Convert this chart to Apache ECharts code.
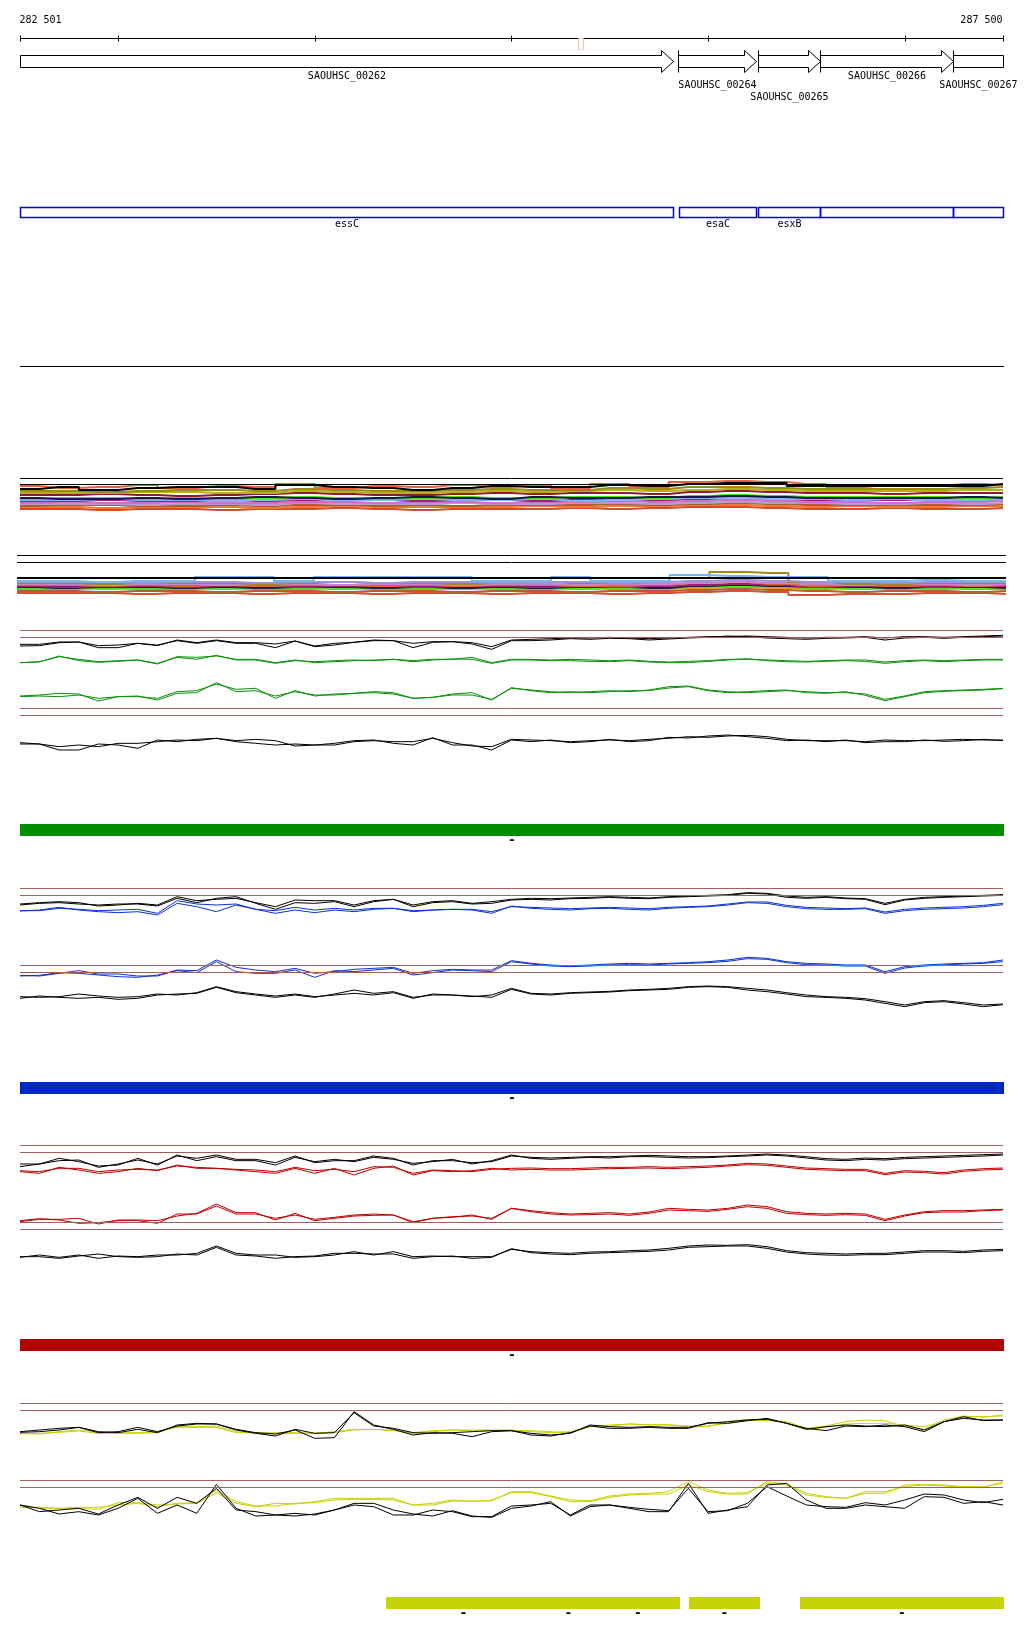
<!DOCTYPE html>
<html><head><meta charset="utf-8">
<script src="https://cdn.jsdelivr.net/npm/echarts/dist/echarts.min.js"></script>
<style>html,body{margin:0;padding:0;background:#fff}#c{width:1024px;height:1640px}</style>
</head><body><div id="c"></div>
<script>
// ---------------- data ----------------
const X_MIN = 282501, X_MAX = 287500;
const rulerTicks = [282501, 283000, 284000, 285000, 286000, 287000, 287500];
const geneNames = ['SAOUHSC_00262','SAOUHSC_00264','SAOUHSC_00265','SAOUHSC_00266','SAOUHSC_00267'];
const geneStart = [282501, 285848, 286255, 286570, 287247];
const geneEnd   = [285822, 286245, 286570, 287247, 287500];
const geneLabelLane = [0, 1, 2, 0, 1];
const variantPos = [285349];
const annotNames = ['essC','esaC','esxB','',''];
const annotStart = [282501, 285850, 286255, 286570, 287247];
const annotEnd   = [285822, 286245, 286570, 287247, 287500];

const pos100 = [282501,282600,282700,282800,282900,283000,283100,283200,283300,283400,283500,283600,283700,283800,283900,284000,284100,284200,284300,284400,284500,284600,284700,284800,284900,285000,285100,285200,285300,285400,285500,285600,285700,285800,285900,286000,286100,286200,286300,286400,286500,286600,286700,286800,286900,287000,287100,287200,287300,287400,287500];
const pos200 = [282501,282700,282900,283100,283300,283500,283700,283900,284100,284300,284500,284700,284900,285100,285300,285500,285700,285900,286100,286300,286500,286700,286900,287100,287300,287500];

// alignment track 1 (multi-colour)
const t1Black      = [26,28,25,27,28,28,26,30,28,27,25,27,29,28,28,30,29,31,32,32,29,29,29,29,29,31];
const t1OrangeRed  = [29,27,28,30,27,29,28,31,27,29,28,30,28,30,27,31,28,33,34,33,31,28,30,29,31,30];
const t1Olive      = [24,24,23,24,25,25,24,26,25,24,24,25,26,25,25,27,26,28,28,27,26,26,26,26,27,28];
const t1YellowOlive= [22,22,22,23,23,22,22,24,23,22,22,23,24,23,24,25,24,25,26,25,24,24,24,24,25,25];
const t1Maroon     = [20,20,21,20,19,20,21,22,21,20,20,21,22,21,22,22,21,23,24,23,22,22,21,22,22,22];
const t1Navy       = [17,16,16,17,16,17,18,17,16,17,18,17,16,18,17,17,18,18,19,18,17,17,17,17,18,17];
const t1Green      = [16,17,17,16,17,16,17,18,17,16,17,18,17,17,18,18,17,19,20,19,18,18,18,18,17,18];
const t1LightBlue  = [15,15,16,15,15,14,15,16,15,15,16,15,15,16,14,15,16,17,17,16,16,15,16,15,15,16];
const t1Magenta    = [14,14,15,14,14,15,14,15,16,15,14,15,15,14,15,16,15,16,17,16,15,15,15,16,15,16];
const t1Pink       = [12,13,12,12,13,12,12,13,13,12,13,13,12,13,13,14,13,14,15,14,13,13,12,13,13,14];
const t1Lavender   = [11,11,11,10,11,11,10,12,11,11,11,12,11,11,12,12,11,12,13,12,12,11,11,12,11,12];
const t1Brown      = [9,10,10,9,9,10,9,10,10,9,10,9,10,10,10,11,10,11,12,11,10,10,10,10,10,11];
const t1Orange     = [8,8,7,8,8,8,7,8,9,8,8,8,8,9,8,9,9,10,10,9,8,9,8,8,9,9];
const t1RedOrange  = [6,6,5,6,6,5,6,6,7,6,5,6,6,6,7,6,7,8,8,7,6,6,7,6,6,7];
const t1RefLevels  = [37, 31];

// alignment track 2 (multi-colour)
const t2LightBlue = [19,19,18,19,19,23,23,19,23,23,23,23,19,19,23,19,19,25,24,23,23,19,19,20,19,19];
const t2Olive     = [17,17,16,17,17,17,16,17,18,17,17,16,17,18,17,17,18,22,28,27,18,16,16,17,17,17];
const t2Lavender  = [18,18,18,17,18,18,17,18,18,17,18,18,17,18,18,17,18,19,20,19,18,18,17,18,18,18];
const t2Pink      = [16,16,15,16,16,15,16,16,15,16,16,15,16,16,15,16,16,17,18,17,16,15,16,16,15,16];
const t2OrangeRed = [15,15,14,15,14,15,14,15,15,14,15,14,15,15,14,14,15,17,18,16,14,15,14,15,14,15];
const t2Magenta   = [14,13,14,14,13,14,14,13,14,14,13,14,14,13,14,13,14,15,16,15,13,14,14,13,14,14];
const t2Navy      = [13,12,13,13,12,13,12,13,13,12,13,12,13,12,13,13,12,14,15,14,13,13,12,13,13,12];
const t2Green     = [12,12,11,12,12,11,12,12,11,12,12,11,12,12,11,12,12,13,14,13,12,11,12,11,12,12];
const t2Orange    = [11,11,12,11,11,12,11,11,12,11,11,12,11,11,12,11,11,12,13,12,11,12,11,12,11,11];
const t2Brown     = [9,9,8,9,9,8,9,9,8,9,9,8,9,9,8,9,9,10,11,10,9,8,9,9,8,9];
const t2RedOrange = [7,7,7,6,7,7,6,7,7,6,7,7,6,7,7,6,7,8,9,8,5,6,6,7,7,6];
const t2RefLevels = [45, 38, 22];

// green panel (depth units, 0 = top)
const gBlackUpA = [73,73,66,66,77,75,70,77,60,68,60,68,68,72,63,78,70,67,62,62,70,65,65,68,80,60,58,56,54,54,52,54,56,54,52,50,50,48,50,52,54,52,52,50,54,50,50,52,50,48,46];
const gBlackUpB = [78,77,68,66,83,83,70,75,62,70,62,70,70,83,63,80,75,67,60,62,83,67,65,72,88,62,62,60,56,58,55,56,60,57,54,52,48,50,54,56,58,55,54,52,60,54,52,55,52,50,48];
const gGreenUpA = [128,125,110,118,125,122,120,132,110,112,108,118,118,128,120,128,125,122,120,118,122,118,118,112,128,118,118,120,118,120,122,120,124,126,124,122,118,118,120,122,124,122,120,120,126,122,120,122,120,118,118];
const gGreenUpB = [128,126,108,122,127,124,120,130,112,118,106,120,120,130,122,125,122,120,122,118,125,120,117,118,130,120,120,122,122,124,125,122,126,128,128,124,120,116,122,125,126,124,122,124,130,125,122,125,122,120,120];
const gGreenLoA = [230,228,230,225,235,230,228,240,220,218,188,215,212,228,215,225,225,220,218,222,235,232,225,225,238,205,210,215,218,215,212,215,210,200,198,210,215,218,215,212,215,218,218,222,238,228,215,212,210,208,205];
const gGreenLoB = [228,225,220,222,243,230,230,235,215,212,192,208,205,235,212,228,222,220,215,218,235,232,222,218,240,203,212,218,215,218,215,212,212,204,200,212,218,215,212,210,218,220,215,226,242,230,218,214,212,210,206];
const gBlackLoA = [368,372,380,375,380,370,370,365,360,362,355,362,358,362,378,375,375,365,362,365,365,355,368,378,380,358,360,362,365,362,360,362,358,355,350,352,348,346,350,358,362,362,362,365,360,362,362,360,358,360,360];
const gBlackLoB = [372,372,390,390,372,375,385,360,365,358,355,365,370,375,372,375,370,362,360,370,375,353,375,375,390,360,365,360,368,365,358,365,362,352,354,348,345,350,355,362,360,365,360,368,365,365,360,364,362,358,362];
const gRefLevels = [31, 52, 265, 286];

// blue panel
const bBlackUpA = [72,68,65,68,78,75,70,75,50,62,58,55,68,80,60,62,62,75,62,58,75,65,62,70,65,58,55,56,54,52,50,52,54,50,48,46,44,38,40,48,52,50,54,56,70,58,52,50,48,46,44];
const bBlackUpB = [75,70,68,72,75,72,72,78,55,68,55,50,70,88,68,70,65,80,65,58,80,68,65,72,70,60,58,60,56,55,52,55,56,52,50,48,46,40,42,52,55,52,56,58,74,60,55,52,50,48,46];
const bBlueUpA  = [92,92,85,88,92,90,88,100,62,72,75,72,88,92,82,90,85,90,85,85,92,90,88,88,95,80,82,84,86,84,82,84,86,82,80,78,72,66,66,76,82,84,86,84,96,88,84,82,80,76,70];
const bBlueUpB  = [93,90,82,90,95,98,95,105,70,80,95,75,88,100,90,98,90,95,88,85,95,90,88,90,100,78,85,88,90,86,85,88,90,85,82,80,75,68,70,80,86,88,88,86,100,92,88,86,84,80,74];
const bBlueLoA  = [286,288,280,272,282,282,288,288,270,272,240,262,270,275,265,280,275,268,265,262,280,272,268,270,270,242,250,255,258,255,252,250,252,250,248,245,240,232,235,245,250,252,255,255,275,260,255,252,250,248,240];
const bBlueLoB  = [288,286,278,280,285,290,292,285,272,278,245,275,280,280,270,292,272,275,270,265,285,278,270,272,275,245,252,258,260,258,255,254,255,252,250,248,244,236,238,248,254,255,258,258,280,264,258,255,252,250,245];
const bBlackLoA = [350,352,350,342,348,352,350,342,345,338,320,335,342,348,342,350,345,340,345,338,355,342,345,350,345,325,340,342,338,336,334,330,328,325,320,318,320,325,330,338,345,350,352,356,365,375,365,362,368,375,372];
const bBlackLoB = [355,348,352,355,352,358,355,345,342,340,322,338,345,352,345,352,342,330,340,335,352,345,345,348,352,328,342,345,340,338,336,332,330,328,322,320,322,330,335,342,350,352,355,360,370,380,368,365,372,380,374];
const bRefLevels = [25, 46, 256, 277];

// red panel
const rBlackUpA = [72,72,62,60,82,72,60,72,48,55,45,58,58,68,48,68,62,62,48,55,75,62,62,68,65,48,52,54,52,50,50,48,46,48,50,50,48,45,42,45,50,56,58,54,56,52,50,48,46,44,42];
const rBlackUpB = [80,72,55,65,78,75,55,75,45,62,50,62,62,75,52,65,58,65,52,58,70,65,58,72,62,45,55,58,55,52,54,50,50,52,54,53,50,48,45,48,54,60,62,58,60,56,54,52,50,48,45];
const rRedUpA   = [92,95,85,85,95,90,88,90,78,82,85,88,90,95,82,92,88,95,80,82,100,90,92,95,88,85,84,86,86,84,82,82,80,82,80,78,75,70,72,78,84,86,88,88,100,92,94,98,90,86,84];
const rRedUpB   = [95,100,82,90,100,95,85,92,75,85,85,90,95,100,85,100,85,105,85,78,105,92,95,92,85,90,88,90,90,88,86,85,84,86,84,82,78,74,76,82,88,90,92,92,104,96,98,102,94,90,88];
const rRedLoA   = [245,238,238,235,252,240,240,242,228,220,192,218,218,240,220,242,235,228,226,225,245,235,232,225,238,205,212,218,222,220,218,222,216,205,208,210,205,195,200,215,220,222,220,222,238,225,215,212,212,210,208];
const rRedLoB   = [242,236,240,250,248,242,242,250,222,222,198,222,222,235,225,238,232,225,222,225,248,235,230,228,235,205,215,222,225,224,222,226,220,210,212,214,208,200,205,220,224,226,224,226,242,228,218,216,216,212,210];
const rBlackLoA = [352,345,352,345,355,348,350,345,345,340,318,340,345,345,352,350,345,335,345,335,350,348,350,350,350,328,335,338,340,336,335,332,330,325,318,315,316,314,320,332,338,340,342,340,340,336,332,332,334,330,328];
const rBlackLoB = [350,350,355,348,342,350,352,350,342,345,322,345,348,355,350,348,340,340,342,342,355,350,348,355,352,326,338,342,344,340,338,336,334,330,322,320,318,318,325,336,342,345,346,344,344,340,336,336,338,334,332];
const rRefLevels = [17, 37, 247, 268];

// yellow panel
const yBlackUpA  = [125,120,115,112,128,125,112,125,108,102,102,118,128,132,120,145,143,65,105,118,135,128,130,140,125,122,130,135,130,105,110,112,110,112,112,100,95,90,88,100,118,110,105,108,110,105,120,95,85,90,90];
const yBlackUpB  = [127,125,120,112,125,128,118,128,105,100,102,120,130,138,118,130,128,68,108,115,128,130,128,125,122,122,135,138,128,108,115,115,112,115,115,98,100,92,85,100,115,122,108,110,105,110,125,95,80,92,90];
const yYellowUpA = [132,130,127,123,130,130,130,128,110,110,108,125,130,132,130,130,125,118,118,122,130,125,120,122,122,122,122,125,128,110,105,102,105,105,108,108,100,92,90,98,118,112,102,100,100,105,110,95,80,80,78];
const yYellowUpB = [130,132,125,120,128,128,128,125,112,112,112,128,128,128,128,130,128,120,118,120,128,122,120,120,120,120,125,128,125,110,108,102,104,104,110,110,95,88,92,95,115,108,95,90,92,110,118,90,78,82,75];
const yBlackLoA  = [345,365,360,355,372,345,322,355,322,340,295,360,365,375,370,375,360,345,350,375,375,360,365,380,380,348,345,340,375,345,345,352,358,362,295,365,362,340,290,318,345,350,352,338,345,330,312,315,330,338,328];
const yBlackLoB  = [345,355,372,365,375,355,325,370,345,370,283,355,378,375,378,372,360,340,340,360,372,378,362,378,382,355,348,335,378,350,345,355,365,365,280,370,360,350,285,280,330,355,355,345,350,355,320,322,340,335,345];
const yYellowLoA = [345,355,355,352,352,345,340,350,340,338,300,335,348,348,340,338,330,328,328,330,345,345,333,333,333,305,305,318,330,332,318,312,310,305,275,300,310,308,280,285,315,322,325,305,305,290,285,288,292,293,275];
const yYellowLoB = [352,352,355,355,358,338,338,345,342,340,308,340,350,340,342,335,325,325,325,325,345,340,330,335,330,308,308,320,335,335,322,315,312,312,285,305,312,312,275,282,310,320,325,310,310,285,283,285,290,290,280];
const yRefLevels = [40, 61, 270, 292];

// feature bars
const greenFeatStart = [282501], greenFeatEnd = [287500], greenFeatStrand = ['-'];
const blueFeatStart  = [282501], blueFeatEnd  = [287500], blueFeatStrand  = ['-'];
const redFeatStart   = [282501], redFeatEnd   = [287500], redFeatStrand   = ['-'];
const yellowFeatStart = [284360, 285145, 285430, 285905, 286470];
const yellowFeatEnd   = [285145, 285430, 285850, 286260, 287500];
const yellowFeatStrand = ['-','-','-','-','-'];

// ---------------- chart ----------------
const FONT = '10px "DejaVu Sans Mono", monospace';
const BROWN = '#a06060';
const grids = [], xAxes = [], yAxes = [], series = [];
function addGrid(top, height, ymax, inverse, left, right) {
  const i = grids.length;
  grids.push({left: left == null ? 20 : left, right: right == null ? 21 : right, top: top, height: height});
  xAxes.push({gridIndex: i, type: 'value', min: X_MIN, max: X_MAX, show: false});
  yAxes.push({gridIndex: i, type: 'value', min: 0, max: ymax, inverse: !!inverse, show: false});
  return i;
}
function px(api, bp) { return Math.round(api.coord([bp, 0])[0]); }
function txt(text, x, y, align, font) {
  return {type: 'text', style: {text: text, x: x, y: y, font: font || FONT, fill: '#000',
    textAlign: align || 'center', align: align || 'center', textVerticalAlign: 'middle', verticalAlign: 'middle'}};
}
function fmt(n) { return String(n).replace(/\B(?=(\d{3})+(?!\d))/g, ' '); }

// header grid
const H = addGrid(0, 380, 380, true);
series.push({
  type: 'custom', xAxisIndex: H, yAxisIndex: H, silent: true, encode: {x: 0, y: 1},
  data: rulerTicks.map((t, i) => [t, i]),
  renderItem(params, api) {
    const i = api.value(1), x = px(api, api.value(0)) + 0.5;
    const ch = [{type: 'line', shape: {x1: x, y1: 35.5, x2: x, y2: 41.5}, style: {stroke: '#000', lineWidth: 1}}];
    if (i === 0) {
      ch.push({type: 'line', shape: {x1: px(api, X_MIN), y1: 38.5, x2: px(api, X_MAX) + 1, y2: 38.5}, style: {stroke: '#000', lineWidth: 1}});
      ch.push(txt(fmt(rulerTicks[0]), x - 1, 20, 'left'));
    }
    if (i === rulerTicks.length - 1) ch.push(txt(fmt(rulerTicks[i]), x - 1, 20, 'right'));
    return {type: 'group', children: ch};
  }
});
series.push({
  type: 'custom', xAxisIndex: H, yAxisIndex: H, silent: true, encode: {x: 0, y: 1},
  data: variantPos.map((p, i) => [p, i]),
  renderItem(params, api) {
    const x = px(api, api.value(0));
    return {type: 'rect', shape: {x: x - 1.5, y: 38.5, width: 5, height: 11}, style: {fill: 'rgba(0,0,0,0)', stroke: '#f5c2b2', lineWidth: 1}};
  }
});
const laneY = [76, 85, 97];
series.push({
  type: 'custom', xAxisIndex: H, yAxisIndex: H, silent: true, encode: {x: [0, 1], y: 2},
  data: geneNames.map((n, i) => [geneStart[i], geneEnd[i], i]),
  renderItem(params, api) {
    const s = api.value(0), e = api.value(1), i = api.value(2);
    const x0 = px(api, s) + 0.5, x1 = px(api, e) + 0.5;
    const top = 55.5, bot = 67.5, hTop = 50.5, hBot = 72.5, mid = 61.5;
    let pts;
    if (e >= X_MAX) pts = [[x0, top], [x1, top], [x1, bot], [x0, bot]];
    else { const h = x1 - 12; pts = [[x0, top], [h, top], [h, hTop], [x1, mid], [h, hBot], [h, bot], [x0, bot]]; }
    const ch = [{type: 'polygon', shape: {points: pts}, style: {fill: '#fff', stroke: '#000', lineWidth: 1}}];
    if (s > X_MIN) ch.push({type: 'line', shape: {x1: x0, y1: hTop, x2: x0, y2: hBot}, style: {stroke: '#000', lineWidth: 1}});
    ch.push(txt(geneNames[i], (x0 + x1) / 2, laneY[geneLabelLane[i]]));
    return {type: 'group', children: ch};
  }
});
series.push({
  type: 'custom', xAxisIndex: H, yAxisIndex: H, silent: true, encode: {x: [0, 1], y: 2},
  data: annotNames.map((n, i) => [annotStart[i], annotEnd[i], i]),
  renderItem(params, api) {
    const i = api.value(2);
    const x0 = px(api, api.value(0)) + 0.5, x1 = px(api, api.value(1)) + 0.5;
    const ch = [{type: 'rect', shape: {x: x0, y: 207.5, width: x1 - x0, height: 10}, style: {fill: 'rgba(0,0,0,0)', stroke: '#0000e0', lineWidth: 1.5}}];
    if (annotNames[i]) ch.push(txt(annotNames[i], (x0 + x1) / 2, 224));
    return {type: 'group', children: ch};
  }
});
series.push({
  type: 'custom', xAxisIndex: H, yAxisIndex: H, silent: true, encode: {x: [0, 1], y: 2},
  data: [[X_MIN, X_MAX, 0]],
  renderItem(params, api) {
    return {type: 'line', shape: {x1: px(api, api.value(0)), y1: 366.5, x2: px(api, api.value(1)) + 1, y2: 366.5}, style: {stroke: '#000', lineWidth: 1}};
  }
});

function addLines(gi, xs, list, refs, step, width) {
  list.forEach((l, k) => {
    const s = {type: 'line', xAxisIndex: gi, yAxisIndex: gi, silent: true, symbol: 'none', showSymbol: false,
      step: step || false, lineStyle: {color: l[1], width: width || 1},
      data: xs.map((p, i) => [p, l[0][i]])};
    if (k === 0 && refs) {
      s.markLine = {silent: true, symbol: 'none', label: {show: false}, animation: false,
        data: refs.map(r => ({yAxis: r.v, lineStyle: {color: r.c, width: r.w, type: 'solid'}}))};
    }
    series.push(s);
  });
}
function addBars(top, color, starts, ends, strands) {
  const gi = addGrid(top, 30, 30, true);
  series.push({
    type: 'custom', xAxisIndex: gi, yAxisIndex: gi, silent: true, encode: {x: [0, 1], y: 2},
    data: starts.map((s, i) => [s, ends[i], i]),
    renderItem(params, api) {
      const i = api.value(2), cs = params.coordSys;
      const x0 = px(api, api.value(0)), x1 = px(api, api.value(1)) + 1;
      return {type: 'group', children: [
        {type: 'rect', shape: {x: x0, y: cs.y, width: x1 - x0, height: 12}, style: {fill: color}},
        txt(strands[i], (x0 + x1) / 2, cs.y + 17, 'center', 'bold 13px "DejaVu Sans Mono", monospace')
      ]};
    }
  });
}

// tangle 1
const T1 = addGrid(470, 45, 45, false);
addLines(T1, pos200, [
  [t1RedOrange, '#d84a2a'], [t1Orange, '#ee7a32'], [t1Brown, '#a8602e'], [t1Lavender, '#b898d0'],
  [t1Pink, '#d070c0'], [t1Magenta, '#a0207a'], [t1LightBlue, '#80b4f0'], [t1Green, '#48e010'],
  [t1Navy, '#181848'], [t1Maroon, '#901838'], [t1YellowOlive, '#b8b010'], [t1Olive, '#988a1c'],
  [t1OrangeRed, '#e8603c'], [t1Black, '#000000']
], null, 'middle', 2);
series.push({type: 'line', xAxisIndex: T1, yAxisIndex: T1, silent: true, symbol: 'none', data: [],
  markLine: {silent: true, symbol: 'none', label: {show: false},
    data: t1RefLevels.map(v => ({yAxis: v, lineStyle: {color: '#000', width: 1, type: 'solid'}}))}});

// tangle 2
const T2 = addGrid(550, 50, 50, false, 17, 18);
addLines(T2, pos200, [
  [t2RedOrange, '#d85030'], [t2Brown, '#b06030'], [t2Orange, '#f08a30'], [t2Green, '#50e020'],
  [t2Navy, '#202050'], [t2Magenta, '#a02070'], [t2OrangeRed, '#e06040'], [t2Pink, '#d080c8'],
  [t2Olive, '#a08820'], [t2Lavender, '#9a90d8'], [t2LightBlue, '#70b8f0']
], null, 'middle', 2);
series.push({type: 'line', xAxisIndex: T2, yAxisIndex: T2, silent: true, symbol: 'none', data: [],
  markLine: {silent: true, symbol: 'none', label: {show: false},
    data: t2RefLevels.map((v, k) => ({yAxis: v, lineStyle: {color: '#000', width: k === 2 ? 2 : 1, type: 'solid'}}))}});

const refs = lv => lv.map(v => ({v: v, c: BROWN, w: 1}));
// green panel
const G = addGrid(620, 150, 450, true);
addLines(G, pos100, [
  [gGreenUpA, '#0a900a'], [gGreenUpB, '#0a900a'], [gGreenLoA, '#0a900a'], [gGreenLoB, '#0a900a'],
  [gBlackUpA, '#000'], [gBlackUpB, '#000'], [gBlackLoA, '#000'], [gBlackLoB, '#000']
], refs(gRefLevels));
addBars(824, '#008f00', greenFeatStart, greenFeatEnd, greenFeatStrand);

// blue panel
const B = addGrid(880, 130, 390, true);
addLines(B, pos100, [
  [bBlueUpA, '#0a32d2'], [bBlueUpB, '#0a32d2'], [bBlueLoA, '#0a32d2'], [bBlueLoB, '#0a32d2'],
  [bBlackUpA, '#000'], [bBlackUpB, '#000'], [bBlackLoA, '#000'], [bBlackLoB, '#000']
], refs(bRefLevels));
addBars(1082, '#0029c4', blueFeatStart, blueFeatEnd, blueFeatStrand);

// red panel
const R = addGrid(1140, 130, 390, true);
addLines(R, pos100, [
  [rRedUpA, '#c00000'], [rRedUpB, '#c00000'], [rRedLoA, '#c00000'], [rRedLoB, '#c00000'],
  [rBlackUpA, '#000'], [rBlackUpB, '#000'], [rBlackLoA, '#000'], [rBlackLoB, '#000']
], refs(rRefLevels));
addBars(1339, '#b30000', redFeatStart, redFeatEnd, redFeatStrand);

// yellow panel
const Y = addGrid(1390, 140, 420, true);
addLines(Y, pos100, [
  [yYellowUpA, '#c8d200'], [yYellowUpB, '#c8d200'], [yYellowLoA, '#c8d200'], [yYellowLoB, '#c8d200'],
  [yBlackUpA, '#000'], [yBlackUpB, '#000'], [yBlackLoA, '#000'], [yBlackLoB, '#000']
], refs(yRefLevels));
addBars(1597, '#c6d308', yellowFeatStart, yellowFeatEnd, yellowFeatStrand);

const chart = echarts.init(document.getElementById('c'), null, {renderer: 'canvas'});
chart.setOption({
  backgroundColor: '#fff', animation: false,
  grid: grids, xAxis: xAxes, yAxis: yAxes, series: series
});
</script></body></html>
